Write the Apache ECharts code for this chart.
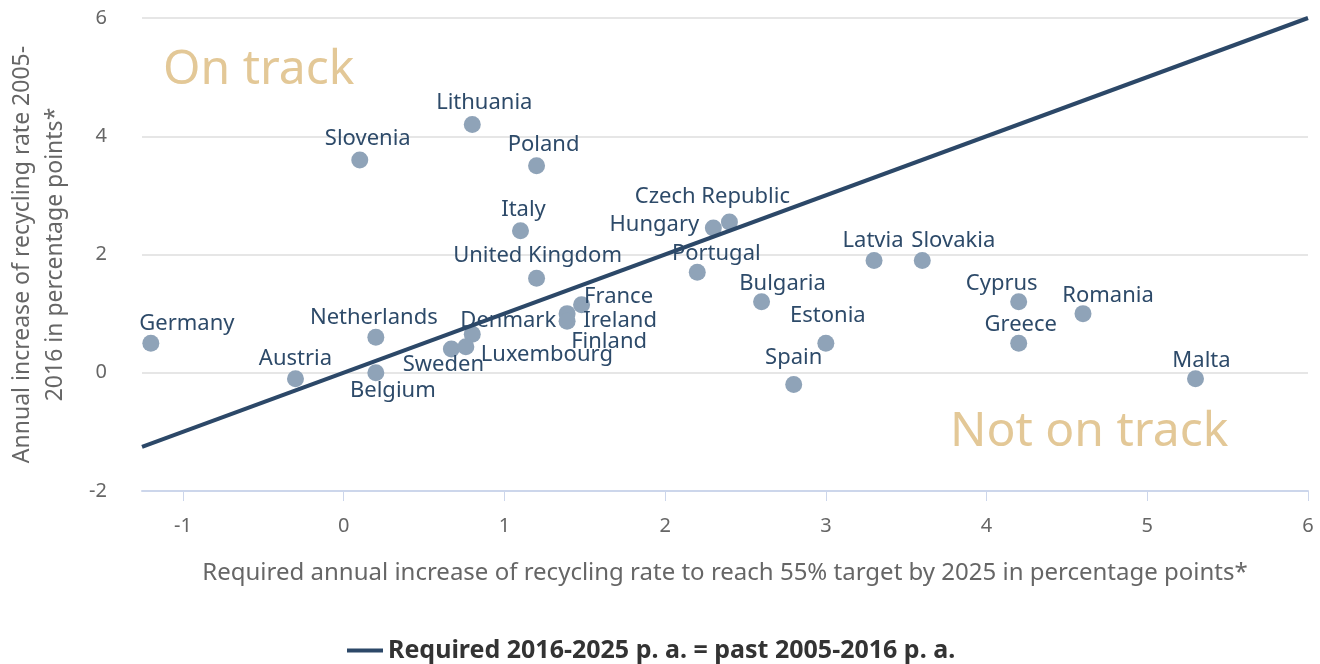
<!DOCTYPE html>
<html>
<head>
<meta charset="utf-8">
<script src="https://cdn.jsdelivr.net/npm/echarts@6/dist/echarts.min.js"></script>
<style>
  html, body { margin: 0; padding: 0; background: #fff; }
  #chart { width: 1320px; height: 664px; }
</style>
</head>
<body>
<div id="chart"></div>
<script>
// 国家与数据
const countries = ['Germany', 'Austria', 'Netherlands', 'Belgium', 'Slovenia', 'Lithuania', 'Poland',
  'Italy', 'United Kingdom', 'Denmark', 'Sweden', 'Luxembourg', 'France', 'Ireland', 'Finland',
  'Czech Republic', 'Hungary', 'Portugal', 'Bulgaria', 'Latvia', 'Slovakia', 'Estonia', 'Spain',
  'Cyprus', 'Greece', 'Romania', 'Malta'];
const requiredPa = [-1.2, -0.3, 0.2, 0.2, 0.1, 0.8, 1.2,
  1.1, 1.2, 0.8, 0.67, 0.76, 1.48, 1.39, 1.39,
  2.4, 2.3, 2.2, 2.6, 3.3, 3.6, 3.0, 2.8,
  4.2, 4.2, 4.6, 5.3];
const pastPa = [0.5, -0.1, 0.6, 0.0, 3.6, 4.2, 3.5,
  2.4, 1.6, 0.65, 0.4, 0.44, 1.15, 1.0, 0.87,
  2.55, 2.45, 1.7, 1.2, 1.9, 1.9, 0.5, -0.2,
  1.2, 0.5, 1.0, -0.1];
const parityX = [-1.255, 6];
const parityY = [-1.255, 6];
const xTicks = [-1, 0, 1, 2, 3, 4, 5, 6];

// 标签偏移（像素）
const labelOffsets = {
  'Germany': [36, -19], 'Austria': [0, -20], 'Netherlands': [-2, -20], 'Belgium': [17, 18],
  'Slovenia': [8, -21], 'Lithuania': [12, -22], 'Poland': [7, -21], 'Italy': [3, -21],
  'United Kingdom': [1, -22], 'Denmark': [36, -14], 'Sweden': [-8, 16], 'Luxembourg': [81, 8],
  'France': [37, -8], 'Ireland': [53, 7], 'Finland': [42, 20], 'Czech Republic': [-17, -25],
  'Hungary': [-59, -3], 'Portugal': [19, -19], 'Bulgaria': [21, -18], 'Latvia': [-1, -20],
  'Slovakia': [31, -20], 'Estonia': [2, -27], 'Spain': [0, -27], 'Cyprus': [-17, -18],
  'Greece': [2, -18], 'Romania': [25, -18], 'Malta': [6, -18]
};

const FONT = '"Noto Sans", sans-serif';
const chart = echarts.init(document.getElementById('chart'));

const points = countries.map((name, i) => ({
  name: name,
  value: [requiredPa[i], pastPa[i]],
  label: { offset: labelOffsets[name] || [0, -20] }
}));

const option = {
  animation: false,
  textStyle: { fontFamily: FONT },
  grid: { left: 142, right: 12, top: 18, bottom: 173, outerBoundsMode: 'none', containLabel: false },
  legend: {
    data: ['Required 2016-2025 p. a. = past 2005-2016 p. a.'],
    top: 633,
    left: 342,
    itemWidth: 36,
    itemHeight: 4,
    itemGap: 12,
    icon: 'rect',
    textStyle: { fontFamily: FONT, fontSize: 25, fontWeight: 'bold', color: '#333' }
  },
  xAxis: {
    type: 'value',
    min: -1.255,
    max: 6,
    name: 'Required annual increase of recycling rate to reach 55% target by 2025 in percentage points*',
    nameLocation: 'middle',
    nameGap: 70,
    nameTextStyle: { fontFamily: FONT, fontSize: 24, color: '#666' },
    axisLine: { onZero: false, lineStyle: { color: '#ccd6eb', width: 2 } },
    axisTick: { show: true, length: 10, customValues: xTicks, lineStyle: { color: '#ccd6eb' } },
    axisLabel: { customValues: xTicks, fontSize: 20, color: '#666', margin: 25 },
    splitLine: { show: false }
  },
  yAxis: {
    type: 'value',
    min: -2,
    max: 6,
    interval: 2,
    name: 'Annual increase of recycling rate 2005-\n2016 in percentage points*',
    nameLocation: 'middle',
    nameGap: 70,
    nameTextStyle: { fontFamily: FONT, fontSize: 23, color: '#666', lineHeight: 33 },
    axisLine: { show: false },
    axisTick: { show: false },
    axisLabel: { fontSize: 20, color: '#666', margin: 35 },
    splitLine: { lineStyle: { color: '#e6e6e6', width: 2 } }
  },
  graphic: [
    {
      type: 'text', left: 163, top: 46, silent: true,
      style: { text: 'On track', fontFamily: FONT, fontSize: 48, fill: '#e3c897' }
    },
    {
      type: 'text', left: 950, top: 408, silent: true,
      style: { text: 'Not on track', fontFamily: FONT, fontSize: 48, fill: '#e3c897' }
    }
  ],
  series: [
    {
      name: 'countries',
      type: 'scatter',
      symbolSize: 17,
      itemStyle: { color: '#8fa3b8', opacity: 1 },
      label: {
        show: true,
        position: 'inside',
        formatter: '{b}',
        fontFamily: FONT,
        fontSize: 22,
        color: '#2d4a69'
      },
      data: points,
      z: 3
    },
    {
      name: 'Required 2016-2025 p. a. = past 2005-2016 p. a.',
      type: 'line',
      showSymbol: false,
      color: '#2c4868',
      lineStyle: { color: '#2c4868', width: 4 },
      data: parityX.map((x, i) => [x, parityY[i]]),
      z: 4
    }
  ]
};

chart.setOption(option);
</script>
</body>
</html>
